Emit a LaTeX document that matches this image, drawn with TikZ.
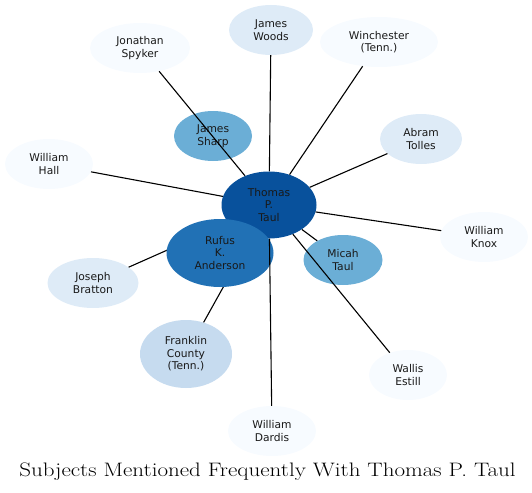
\documentclass[tikz,border=0pt]{standalone}
\usepackage{fontspec}
\setsansfont{DejaVu Sans}
\usetikzlibrary{shapes.geometric}
\definecolor{b1}{HTML}{F7FBFF}
\definecolor{b2}{HTML}{DEEBF7}
\definecolor{b3}{HTML}{C6DBEF}
\definecolor{b5}{HTML}{6BAED6}
\definecolor{b7}{HTML}{2171B5}
\definecolor{b8}{HTML}{08519C}
\tikzset{
  ent/.style={ellipse, inner sep=0pt, align=center, text=black!90,
    font=\sffamily\fontsize{10.7}{12.6}\selectfont},
  small/.style={ent, minimum width=88pt, minimum height=50pt},
  edge/.style={draw=black, line width=1.1pt}
}
\begin{document}
\begin{tikzpicture}[x=1pt,y=-1pt]
\useasboundingbox (0,0) rectangle (532,492);
% nodes
\node[small, fill=b1, minimum width=100pt] (spyker) at (140,48) {Jonathan\\Spyker};
\node[small, fill=b2, minimum width=84pt] (woods) at (271,30) {James\\Woods};
\node[small, fill=b1, minimum width=118pt] (winch) at (379,42) {Winchester\\(Tenn.)};
\node[small, fill=b5, minimum width=78pt] (sharp) at (213,136) {James\\Sharp};
\node[small, fill=b2, minimum width=82pt] (abram) at (421,139) {Abram\\Tolles};
\node[small, fill=b1, minimum width=88pt] (hall) at (49,164) {William\\Hall};
\node[small, fill=b1, minimum width=88pt] (knox) at (484,237) {William\\Knox};
\node[ent, fill=b8, minimum width=95pt, minimum height=67pt] (thomas) at (269,205) {Thomas\\P.\\Taul};
\node[small, fill=b5, minimum width=79pt] (micah) at (343,260) {Micah\\Taul};
\node[small, fill=b2, minimum width=91pt] (bratton) at (93,283) {Joseph\\Bratton};
\node[ent, fill=b3, minimum width=92pt, minimum height=68pt] (franklin) at (186,354) {Franklin\\County\\(Tenn.)};
\node[small, fill=b1, minimum width=78pt] (wallis) at (408,375) {Wallis\\Estill};
\node[small, fill=b1, minimum width=88pt] (dardis) at (272,431) {William\\Dardis};
% edges hidden under Rufus
\draw[edge] (thomas) -- (bratton);
\draw[edge] (thomas) -- (franklin);
\node[ent, fill=b7, minimum width=107pt, minimum height=68pt] (rufus) at (220,253) {Rufus\\K.\\Anderson};
% edges
\draw[edge] (thomas) -- (spyker);
\draw[edge] (thomas) -- (woods);
\draw[edge] (thomas) -- (winch);
\draw[edge] (thomas) -- (abram);
\draw[edge] (thomas) -- (hall);
\draw[edge] (thomas) -- (knox);
\draw[edge] (thomas) -- (micah);
\draw[edge] (thomas) -- (wallis);
\draw[edge] (thomas) -- (dardis);
% title
\node[anchor=base, inner sep=0pt] (title) at (267.5,476) {\scalebox{1.18}[1]{\rmfamily\fontsize{19.5}{22}\selectfont Subjects Mentioned Frequently With Thomas P. Taul}};
\end{tikzpicture}
\end{document}
